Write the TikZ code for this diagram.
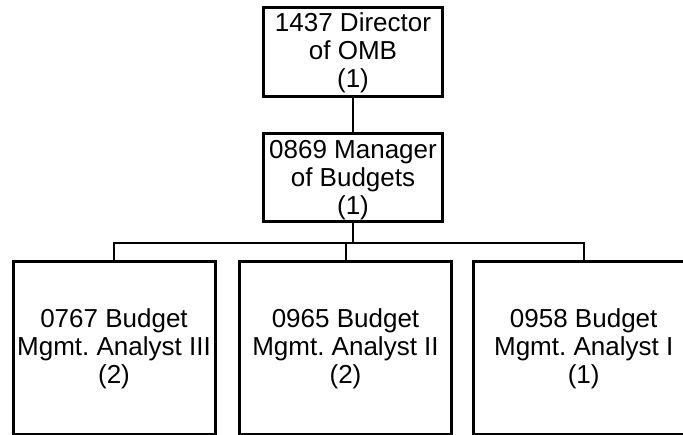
\documentclass[tikz,border=0pt]{standalone}
\usepackage{fontspec}
\setmainfont{Liberation Sans}
\frenchspacing
\begin{document}
\begin{tikzpicture}[x=1pt,y=-1pt,
  post/.style={draw, line width=3pt, inner sep=0pt},
  title/.style={inner sep=0pt, align=center,
    font=\fontsize{26}{28}\selectfont},
  link/.style={line width=2pt}]
\clip (0,0) rectangle (683,435);
\fill[white] (0,0) rectangle (683,435);
% upper chain
\node[post, minimum width=179pt, minimum height=89pt] (dir) at (353,52) {};
\node[post, minimum width=179pt, minimum height=88.5pt] (mgr) at (353,177.5) {};
% analyst row
\node[post, minimum width=202pt, minimum height=172.5pt] (a3) at (114,348.25) {};
\node[post, minimum width=212pt, minimum height=172.5pt] (a2) at (345.5,348.25) {};
\node[post, minimum width=220.5pt, minimum height=172.5pt] (a1) at (583.7,348.25) {};
% titles
\node[title, yshift=-1pt] (dirT) at (dir) {1437 Director\\of OMB\\(1)};
\node[title, yshift=-3pt] (mgrT) at (mgr) {0869 Manager\\of Budgets\\(1)};
\node[title, yshift=-1pt] (a3T) at (a3) {0767 Budget\\Mgmt. Analyst III\\(2)};
\node[title, yshift=-1pt] (a2T) at (a2) {0965 Budget\\Mgmt. Analyst II\\(2)};
\node[title, yshift=-1pt] (a1T) at (a1) {0958 Budget\\Mgmt. Analyst I\\(1)};
% connectors
\coordinate (bus) at (351.5,243);
\draw[link] (dir.south) -- (mgr.north);
\draw[link] (mgr.south) -- (mgr.south |- bus);
\draw[link] (a3.north) |- (bus) -| (a1.north);
\draw[link] (a2.north) -- (a2.north |- bus);
\end{tikzpicture}
\end{document}
